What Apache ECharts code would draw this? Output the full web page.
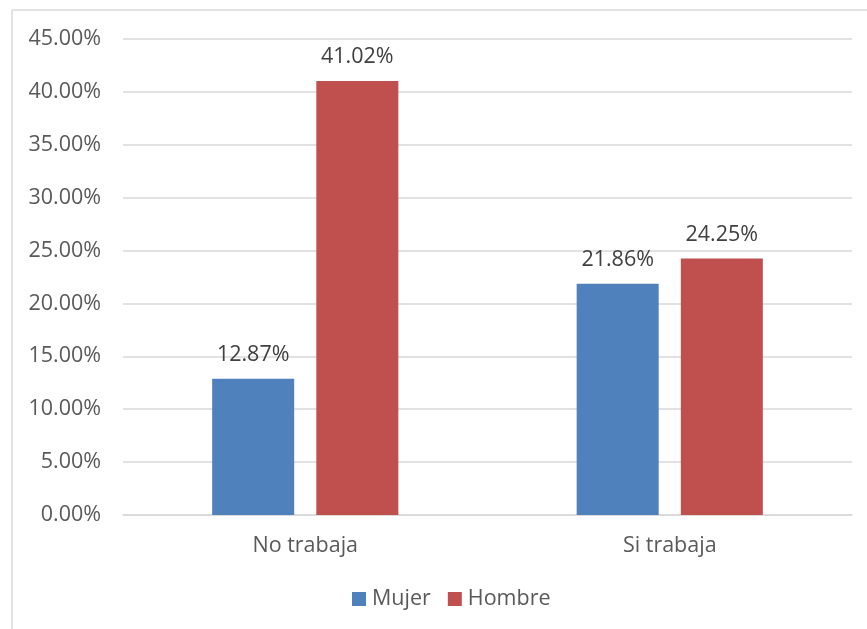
<!DOCTYPE html>
<html>
<head>
<meta charset="utf-8">
<script src="https://cdn.jsdelivr.net/npm/echarts@6/dist/echarts.min.js"></script>
<style>
  html, body { margin: 0; padding: 0; background: #fff; }
  #chart { width: 867px; height: 629px; }
</style>
</head>
<body>
<div id="chart"></div>
<script>
// Situación laboral por sexo (porcentajes)
const categories = ['No trabaja', 'Si trabaja'];
const seriesNames = ['Mujer', 'Hombre'];
const mujer = [12.87, 21.86];
const hombre = [41.02, 24.25];
const yTicks = { min: 0, max: 45, interval: 5 };

const axisTextColor = '#595959';
const labelTextColor = '#404040';
const fontFamily = '"Open Sans", "Noto Sans", sans-serif';
const fontSize = 21.5;

const chart = echarts.init(document.getElementById('chart'), null, { renderer: 'canvas' });

function barSeries(name, data, color) {
  return {
    name: name,
    type: 'bar',
    data: data,
    barWidth: '22.5%',
    barGap: '27%',
    itemStyle: { color: color },
    label: {
      show: true,
      position: 'top',
      distance: 13,
      color: labelTextColor,
      fontFamily: fontFamily,
      fontSize: fontSize,
      formatter: p => p.value.toFixed(2) + '%'
    }
  };
}

chart.setOption({
  animation: false,
  backgroundColor: '#ffffff',
  textStyle: { fontFamily: fontFamily },
  graphic: [
    { type: 'line', shape: { x1: 12, y1: 10, x2: 867, y2: 10 }, style: { stroke: '#d9d9d9', lineWidth: 1.5 } },
    { type: 'line', shape: { x1: 12, y1: 10, x2: 12, y2: 629 }, style: { stroke: '#d9d9d9', lineWidth: 1.5 } }
  ],
  grid: { left: 123, right: 15, top: 39, bottom: 114, containLabel: false },
  legend: {
    data: seriesNames,
    bottom: 14,
    left: 347,
    itemWidth: 14,
    itemHeight: 14,
    itemGap: 17,
    icon: 'rect',
    textStyle: { color: axisTextColor, fontSize: fontSize, fontFamily: fontFamily, padding: [0, 0, 0, 1] }
  },
  xAxis: {
    type: 'category',
    data: categories,
    axisLine: { show: true, lineStyle: { color: '#d9d9d9', width: 1.5 } },
    axisTick: { show: false },
    axisLabel: { color: axisTextColor, fontSize: fontSize, fontFamily: fontFamily, margin: 20 }
  },
  yAxis: {
    type: 'value',
    min: yTicks.min,
    max: yTicks.max,
    interval: yTicks.interval,
    axisLine: { show: false },
    axisTick: { show: false },
    splitLine: { lineStyle: { color: '#d9d9d9', width: 1.5 } },
    axisLabel: {
      color: axisTextColor,
      fontSize: fontSize,
      fontFamily: fontFamily,
      margin: 22,
      formatter: v => v.toFixed(2) + '%'
    }
  },
  series: [
    barSeries(seriesNames[0], mujer, '#4f81bd'),
    barSeries(seriesNames[1], hombre, '#c0504d')
  ]
});
</script>
</body>
</html>
